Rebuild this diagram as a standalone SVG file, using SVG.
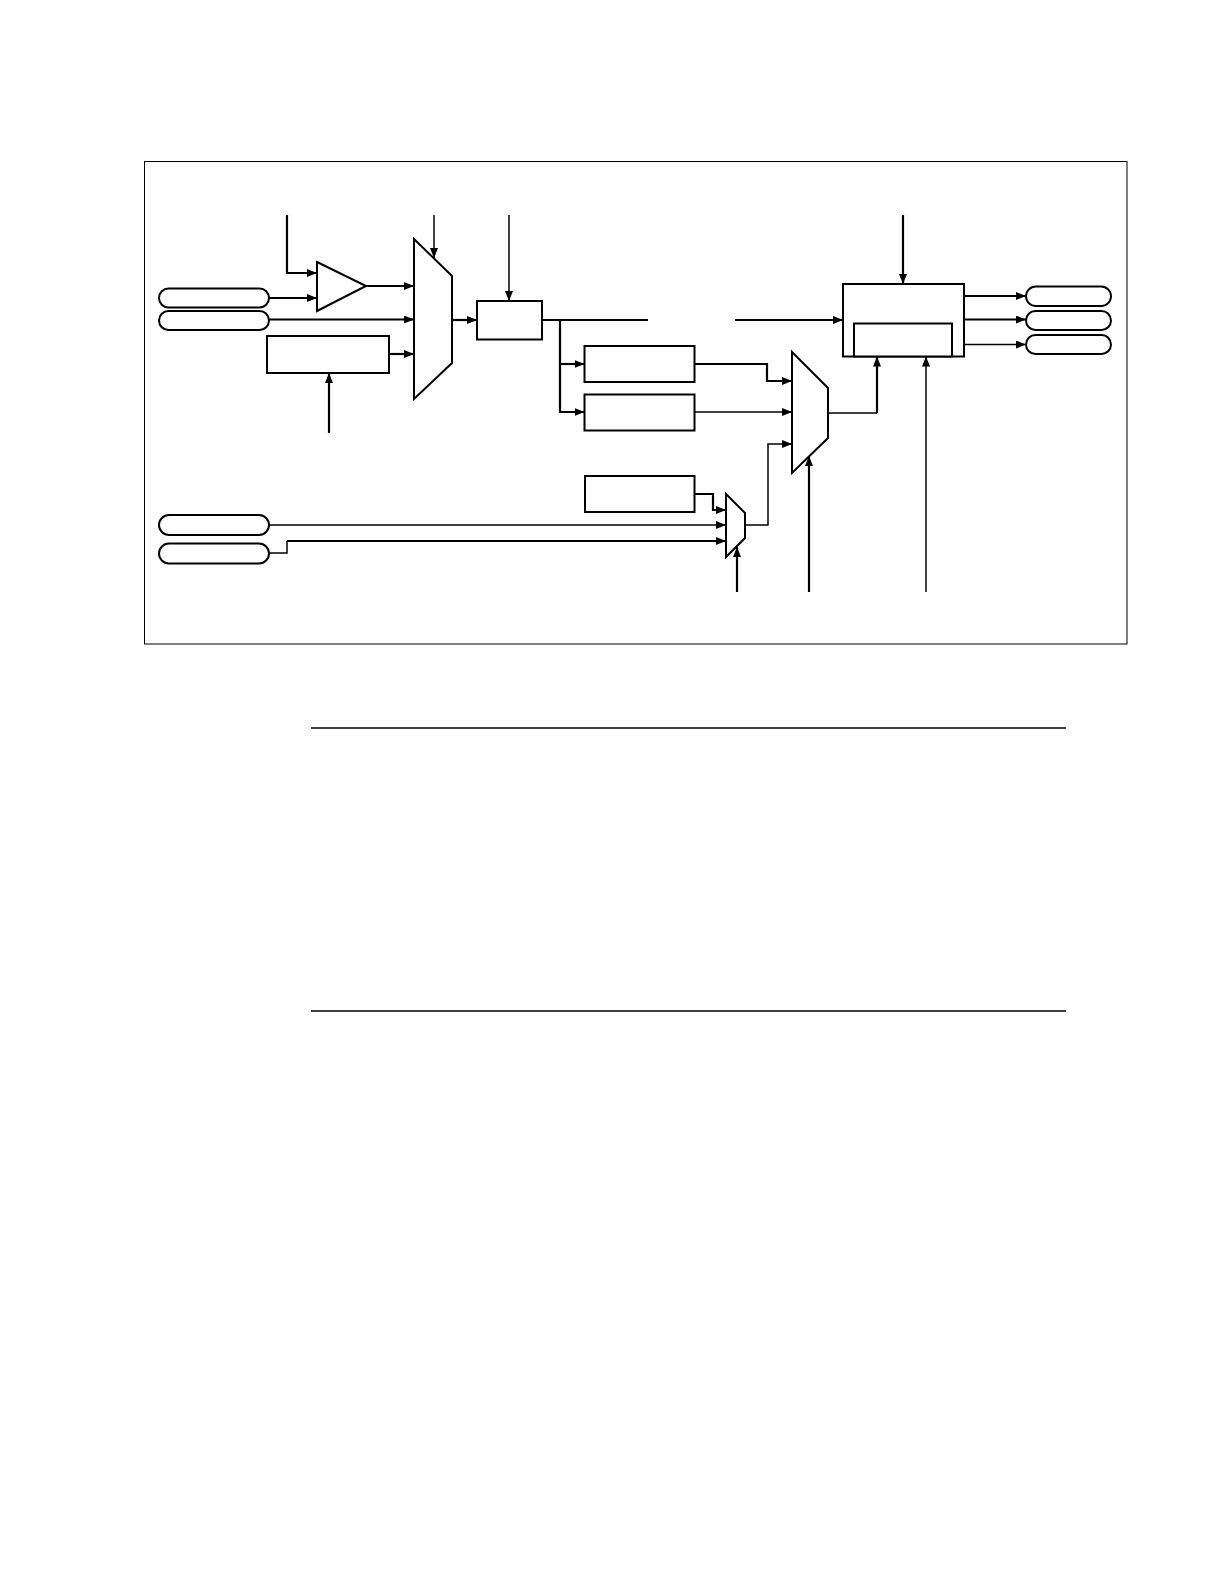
<svg xmlns="http://www.w3.org/2000/svg" width="1224" height="1584" viewBox="0 0 1224 1584">
<style>
.shape{fill:#fff;stroke:#000;stroke-width:2}
.frame{fill:none;stroke:#000;stroke-width:1}
.thick{fill:none;stroke:#000;stroke-width:2.2}
.thin{fill:none;stroke:#000;stroke-width:1.5}
.rule{stroke:#000;stroke-width:1.5}
</style>
<defs>
<marker id="ah" viewBox="0 0 10 8" refX="10" refY="4" markerWidth="10" markerHeight="8" markerUnits="userSpaceOnUse" orient="auto">
<path d="M0,0 L10,4 L0,8 z" fill="#000"/>
</marker>
</defs>
<rect width="1224" height="1584" fill="#fff"/>
<rect id="frame" class="frame" x="144.5" y="161.5" width="982.5" height="482.5"/>
<g id="pill-in1"><rect class="shape" x="159" y="288.5" width="110" height="19" rx="9.5"/></g>
<g id="pill-in2"><rect class="shape" x="159" y="311" width="110" height="19" rx="9.5"/></g>
<g id="pill-in3"><rect class="shape" x="159" y="515" width="110" height="20" rx="10"/></g>
<g id="pill-in4"><rect class="shape" x="159" y="543.5" width="110" height="20" rx="10"/></g>
<g id="amp"><polygon class="shape" points="317,262 366,286 317,311"/></g>
<g id="box-ref"><rect class="shape" x="267" y="336" width="122" height="37"/></g>
<g id="mux1"><polygon class="shape" points="414,239 452,276 452,363 414,399"/></g>
<g id="box-div"><rect class="shape" x="477" y="301" width="65" height="38.5"/></g>
<g id="box-a"><rect class="shape" x="584.5" y="346" width="110" height="36"/></g>
<g id="box-b"><rect class="shape" x="584.5" y="394.5" width="110" height="36"/></g>
<g id="box-c"><rect class="shape" x="585" y="476" width="109.5" height="36"/></g>
<g id="mux2"><polygon class="shape" points="792,352 828,388 828,438 792,473"/></g>
<g id="mux3"><polygon class="shape" points="726,494 745,513 745,538 726,557"/></g>
<g id="big-box"><rect class="shape" x="843" y="284" width="121" height="72.5"/><rect class="shape" x="854" y="323.5" width="98" height="33"/></g>
<g id="pill-out1"><rect class="shape" x="1026" y="286.5" width="85" height="19.5" rx="9.75"/></g>
<g id="pill-out2"><rect class="shape" x="1026" y="311" width="85" height="19" rx="9.5"/></g>
<g id="pill-out3"><rect class="shape" x="1026" y="335" width="85" height="19" rx="9.5"/></g>
<g id="connectors">
<path class="thick" d="M287,215 V273 H317" marker-end="url(#ah)"/>
<path class="thick" d="M269,298 H317" marker-end="url(#ah)"/>
<path class="thick" d="M366,286 H414" marker-end="url(#ah)"/>
<path class="thick" d="M269,319.5 H414" marker-end="url(#ah)"/>
<path class="thick" d="M389,354 H414" marker-end="url(#ah)"/>
<path class="thick" d="M329,433 V373" marker-end="url(#ah)"/>
<path class="thin" d="M434,215 V258" marker-end="url(#ah)"/>
<path class="thick" d="M452,320 H477" marker-end="url(#ah)"/>
<path class="thin" d="M509,215 V301" marker-end="url(#ah)"/>
<path class="thick" d="M542,320 H648"/>
<path class="thick" d="M735,320 H843" marker-end="url(#ah)"/>
<path class="thick" d="M560,320 V412 H584.5" marker-end="url(#ah)"/>
<path class="thick" d="M560,364 H584.5" marker-end="url(#ah)"/>
<path class="thick" d="M694.5,364 H767 V381 H792" marker-end="url(#ah)"/>
<path class="thin" d="M694.5,412 H792" marker-end="url(#ah)"/>
<path class="thin" d="M745,525 H768 V444 H792" marker-end="url(#ah)"/>
<path class="thick" d="M694.5,494 H713 V510 H726" marker-end="url(#ah)"/>
<path class="thin" d="M269,525 H726" marker-end="url(#ah)"/>
<path class="thin" d="M269,553 H287 V541"/>
<path class="thick" d="M287,541 H726" marker-end="url(#ah)"/>
<path class="thick" d="M737,592 V547" marker-end="url(#ah)"/>
<path class="thick" d="M809,592 V456" marker-end="url(#ah)"/>
<path class="thin" d="M828,413 H877"/>
<path class="thick" d="M877,413 V356.5" marker-end="url(#ah)"/>
<path class="thin" d="M926,592 V356.5" marker-end="url(#ah)"/>
<path class="thick" d="M903,215 V284" marker-end="url(#ah)"/>
<path class="thick" d="M964,296 H1026" marker-end="url(#ah)"/>
<path class="thick" d="M964,319.5 H1026" marker-end="url(#ah)"/>
<path class="thin" d="M964,344.5 H1026" marker-end="url(#ah)"/>
</g>
<line class="rule" x1="311" y1="728" x2="1066" y2="728"/>
<line class="rule" x1="311" y1="1011" x2="1066" y2="1011"/>
</svg>
